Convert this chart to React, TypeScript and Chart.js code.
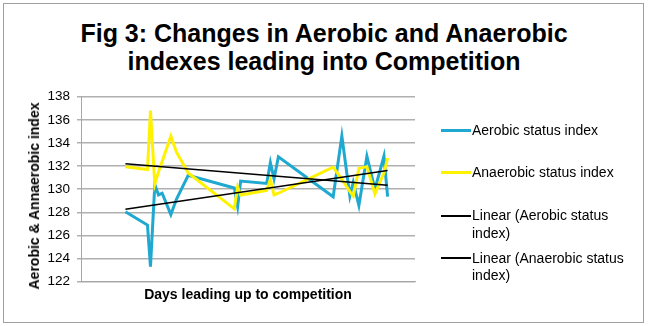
import React, { useEffect, useRef } from "react";
import { Chart, registerables } from "chart.js";

Chart.register(...registerables);

const titleLines = ["Fig 3: Changes in Aerobic and Anaerobic", "indexes leading into Competition"];
const yAxisTitle = "Aerobic & Annaerobic index";
const xAxisTitle = "Days leading up to competition";

const days = [13.3, 19.9, 20.8, 22.1, 23.2, 24.3, 26.9, 28.6, 32.1, 45.9, 46.9, 47.8, 55.6, 56.7, 57.8, 59.1, 75.5, 78.1, 80.5, 81.5, 83.2, 85.6, 88.0, 90.7, 91.8];
const aerobic = [128.05, 126.9, 123.3, 130.4, 129.5, 129.65, 127.8, 129.15, 131.2, 130.1, 128.5, 130.7, 130.5, 132.3, 130.9, 132.8, 129.35, 134.6, 129.4, 130.6, 128.6, 132.85, 130.0, 132.85, 129.35];
const anaerobic = [131.95, 131.7, 136.8, 130.45, 131.5, 132.4, 134.6, 133.2, 131.4, 128.3, 130.2, 129.5, 129.9, 130.85, 129.5, 129.65, 131.9, 130.85, 129.8, 129.4, 131.8, 131.95, 129.6, 131.4, 132.7];

const yMin = 122;
const yMax = 138;
const yStep = 2;

const seriesNames = [
  "Aerobic status index",
  "Anaerobic status index",
  "Linear (Aerobic status index)",
  "Linear (Anaerobic status index)",
];
const seriesColors = ["#1fa8d0", "#fff200", "#000000", "#000000"];

const FONT = "'Liberation Sans', Arial, Helvetica, sans-serif";

function linearFit(xs: number[], ys: number[]) {
  const n = xs.length;
  let sx = 0, sy = 0, sxx = 0, sxy = 0;
  for (let i = 0; i < n; i++) {
    sx += xs[i]; sy += ys[i]; sxx += xs[i] * xs[i]; sxy += xs[i] * ys[i];
  }
  const b = (n * sxy - sx * sy) / (n * sxx - sx * sx);
  const a = (sy - b * sx) / n;
  const x0 = Math.min(...xs);
  const x1 = Math.max(...xs);
  return [{ x: x0, y: a + b * x0 }, { x: x1, y: a + b * x1 }];
}

export default function App() {
  const canvasRef = useRef<HTMLCanvasElement | null>(null);

  useEffect(() => {
    if (!canvasRef.current) return;
    const toPts = (ys: number[]) => days.map((d, i) => ({ x: d, y: ys[i] }));
    const chart = new Chart(canvasRef.current, {
      type: "line",
      data: {
        datasets: [
          { label: seriesNames[0], data: toPts(aerobic), borderColor: seriesColors[0], borderWidth: 3, pointRadius: 0, tension: 0, order: 2 },
          { label: seriesNames[1], data: toPts(anaerobic), borderColor: seriesColors[1], borderWidth: 3, pointRadius: 0, tension: 0, order: 1 },
          { label: seriesNames[2], data: linearFit(days, aerobic), borderColor: seriesColors[2], borderWidth: 1.5, pointRadius: 0, order: 0 },
          { label: seriesNames[3], data: linearFit(days, anaerobic), borderColor: seriesColors[3], borderWidth: 1.5, pointRadius: 0, order: 0 },
        ],
      },
      options: {
        animation: false,
        responsive: false,
        maintainAspectRatio: false,
        layout: { padding: { top: 96.7, right: 235, left: 0, bottom: 0 } },
        plugins: { legend: { display: false }, tooltip: { enabled: false }, title: { display: false } },
        scales: {
          x: {
            type: "linear",
            min: 0,
            max: 100,
            ticks: { display: false },
            grid: { display: false },
            border: { display: true, color: "#a6a6a6", width: 1 },
            title: { display: true, text: xAxisTitle, color: "#000", font: { family: FONT, size: 14, weight: "bold" }, padding: { top: 0, bottom: 22 } },
            afterFit: (s: any) => { s.height = 44.3; },
          },
          y: {
            min: yMin,
            max: yMax,
            ticks: { stepSize: yStep, color: "#000", font: { family: FONT, size: 13.5 }, padding: 7 },
            grid: { color: "#b0b0b0", lineWidth: 1.5, tickLength: 4, drawTicks: true },
            border: { display: true, color: "#a6a6a6", width: 1 },
            afterFit: (s: any) => { s.width = 81; },
          },
        },
      },
    });
    return () => chart.destroy();
  }, []);

  const legendTop = [130.7, 172.7, 216, 258.3];

  return (
    <div style={{ position: "fixed", left: 0, top: 0, width: 650, height: 326, background: "#fff", overflow: "hidden", fontFamily: FONT }}>
      <div style={{ position: "absolute", left: 3, top: 3, width: 639, height: 318, border: "1px solid #a0a0a0" }} />
      <div style={{ position: "absolute", left: 0, top: 20.4, width: 648, textAlign: "center", fontWeight: "bold", fontSize: 25, lineHeight: "27.3px", color: "#000" }}>
        {titleLines.map((t, i) => (<div key={i}>{t}</div>))}
      </div>
      <canvas ref={canvasRef} width={650} height={326} style={{ position: "absolute", left: 0, top: 0, width: 650, height: 326 }} />
      <div style={{ position: "absolute", left: 33.5, top: 196.3, width: 0, height: 0 }}>
        <div style={{ position: "absolute", left: 0, top: 0, transform: "translate(-50%, -50%) rotate(-90deg)", whiteSpace: "nowrap", fontWeight: "bold", fontSize: 14, lineHeight: "16px", color: "#000" }}>
          {yAxisTitle}
        </div>
      </div>
      {seriesNames.map((name, i) => (
        <div key={i} style={{ position: "absolute", left: 441, top: legendTop[i] - 8.75, width: 200 }}>
          <div style={{ position: "absolute", left: 0, top: 8.75 - (i < 2 ? 1.5 : 1), width: 30, height: i < 2 ? 3 : 2, background: seriesColors[i] }} />
          <div style={{ position: "absolute", left: 31, top: 0, width: 170, fontSize: 14, lineHeight: "17.5px", color: "#000" }}>{name}</div>
        </div>
      ))}
    </div>
  );
}
